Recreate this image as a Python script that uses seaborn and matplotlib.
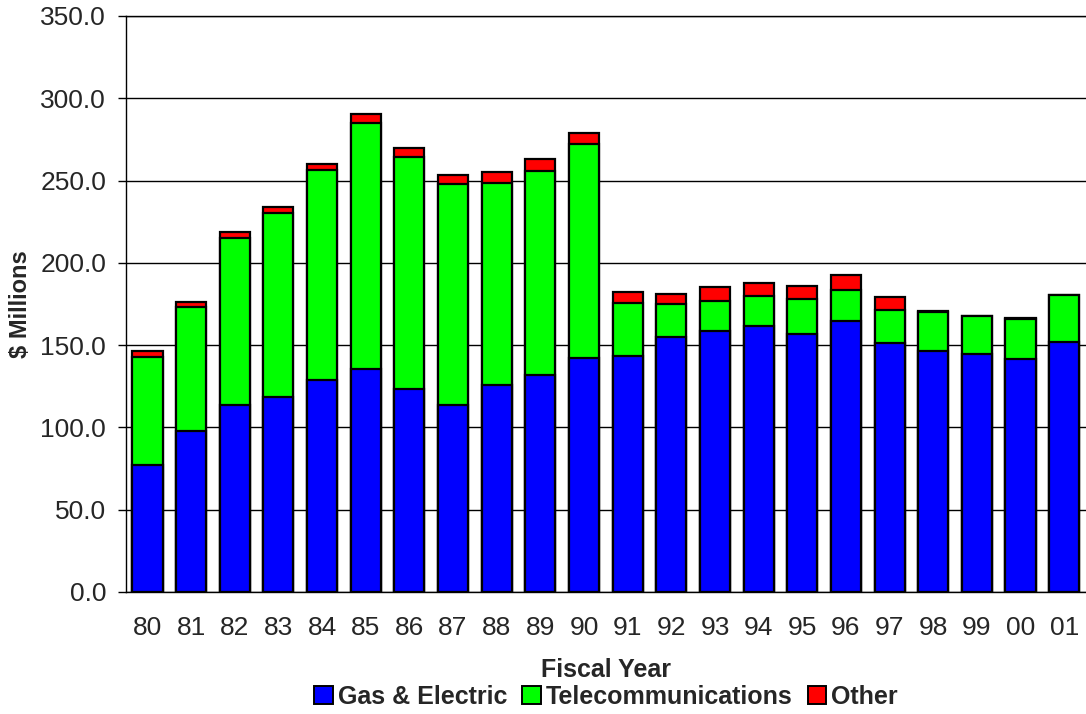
import matplotlib
matplotlib.use("Agg")
import matplotlib.pyplot as plt
import matplotlib.ticker as mticker
from matplotlib.patches import Patch
import seaborn as sns
import pandas as pd
import numpy as np

years = ["80", "81", "82", "83", "84", "85", "86", "87", "88", "89", "90",
         "91", "92", "93", "94", "95", "96", "97", "98", "99", "00", "01"]
gas_electric = [77.4, 98.0, 113.4, 118.7, 128.8, 135.3, 123.1, 113.4, 125.9, 131.6, 142.4,
                143.2, 155.1, 158.8, 161.6, 156.7, 164.8, 151.1, 146.4, 144.4, 141.6, 152.1]
telecom = [65.2, 75.0, 101.5, 111.4, 127.4, 149.4, 141.4, 134.5, 122.6, 124.4, 129.8,
           32.6, 19.9, 18.2, 18.2, 21.1, 18.9, 20.2, 23.8, 23.2, 24.4, 28.2]
other = [4.0, 3.0, 3.6, 3.8, 4.0, 6.0, 5.0, 5.4, 6.5, 7.1, 6.5,
         6.5, 6.0, 8.1, 8.1, 8.1, 8.7, 8.1, 0.5, 0.3, 0.5, 0.3]
series_names = ["Gas & Electric", "Telecommunications", "Other"]
colors = ["#0000FF", "#00FF00", "#FF0000"]

df = pd.DataFrame({"year": years, "ge": gas_electric, "tel": telecom, "oth": other})
df["lvl1"] = df["ge"]
df["lvl2"] = df["ge"] + df["tel"]
df["lvl3"] = df["lvl2"] + df["oth"]

sns.set_style("white")
plt.rcParams["font.family"] = ["Liberation Sans", "DejaVu Sans"]

fig = plt.figure(figsize=(10.86, 7.14), dpi=100)
ax = fig.add_axes([0.1157, 0.1709, 0.8843, 0.8067])

for col, c in zip(["lvl3", "lvl2", "lvl1"], colors[::-1]):
    sns.barplot(data=df, x="year", y=col, color=c, order=years, width=0.69,
                edgecolor="black", linewidth=1.6, saturation=1, ax=ax, zorder=3)

ax.set_xlim(-0.5, 21.5)
ax.set_ylim(0, 350)
ax.yaxis.set_major_locator(mticker.MultipleLocator(50))
ax.yaxis.set_major_formatter(mticker.FormatStrFormatter("%.1f"))
ax.grid(axis="y", color="black", linewidth=1.0, zorder=0)
ax.set_axisbelow(True)

ax.xaxis.set_minor_locator(mticker.FixedLocator(np.arange(-0.5, 22, 1)))
ax.tick_params(axis="x", which="major", length=0, pad=17, labelsize=19)
ax.tick_params(axis="x", which="minor", length=12, direction="inout", width=1, color="black")
ax.tick_params(axis="y", which="major", length=6, direction="out", width=1, color="black",
               pad=8, labelsize=19, left=True)

for s in ["left", "bottom", "top"]:
    ax.spines[s].set_color("black")
    ax.spines[s].set_linewidth(1.0)
ax.spines["right"].set_visible(False)

ax.set_xlabel("Fiscal Year", fontsize=18, fontweight="bold")
ax.xaxis.set_label_coords(0.5, -0.115)
ax.set_ylabel("$ Millions", fontsize=17, fontweight="bold", labelpad=6)

handles = [Patch(facecolor=c, edgecolor="black", linewidth=1.4) for c in colors]
ax.legend(handles, series_names, loc="center", bbox_to_anchor=(0.558, 1 - 697 / 714),
          bbox_transform=fig.transFigure,
          ncol=3, frameon=False, prop={"size": 18, "weight": "bold"},
          handlelength=0.75, handleheight=0.75, handletextpad=0.2, columnspacing=0.6,
          borderaxespad=0, borderpad=0)

fig.savefig("out.png", dpi=100)
